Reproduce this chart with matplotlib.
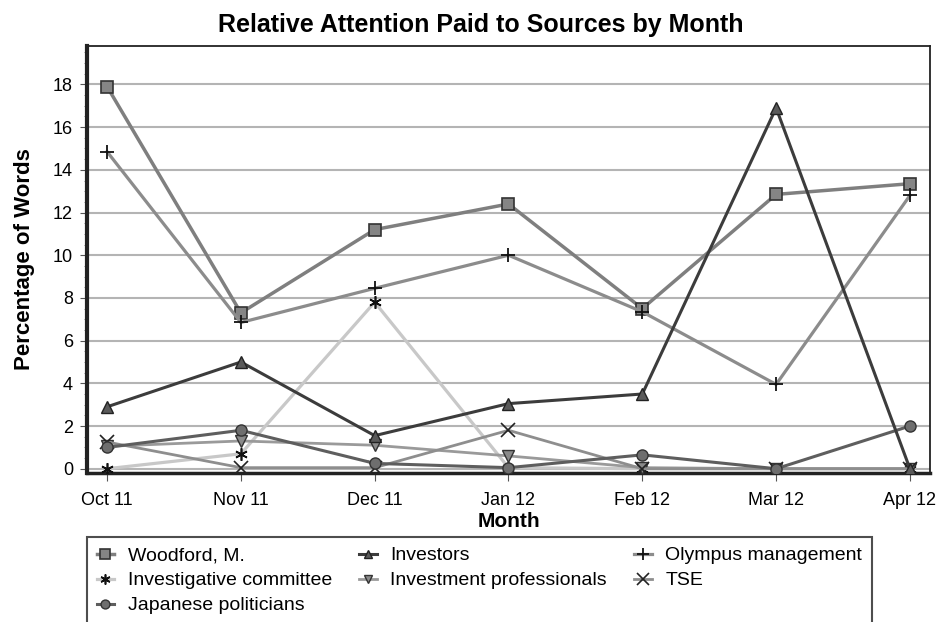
import matplotlib
matplotlib.use("Agg")
import matplotlib.pyplot as plt
from matplotlib.ticker import MultipleLocator

plt.rcParams['font.family'] = ['Liberation Sans', 'DejaVu Sans']

months = ['Oct 11', 'Nov 11', 'Dec 11', 'Jan 12', 'Feb 12', 'Mar 12', 'Apr 12']

woodford = [17.9, 7.3, 11.2, 12.4, 7.5, 12.85, 13.35]
investors = [2.9, 5.0, 1.55, 3.05, 3.5, 16.9, 0.0]
olympus = [14.85, 6.85, 8.45, 10.0, 7.35, 3.95, 12.8]
inv_committee = [0.0, 0.7, 7.8, 0.05, 0.0, 0.0, 0.0]
inv_professionals = [1.05, 1.3, 1.1, 0.6, 0.05, 0.0, 0.0]
tse = [1.25, 0.05, 0.05, 1.8, 0.0, 0.0, 0.0]
jp_politicians = [1.0, 1.8, 0.25, 0.05, 0.65, 0.0, 2.0]

fig = plt.figure(figsize=(9.43, 6.22), dpi=100)
ax = fig.add_axes([87/943, 1-473/622, (930-87)/943, (473-46)/622])

x = range(len(months))
h_wood, = ax.plot(x, woodford, color='#7f7f7f', lw=2.5, marker='s', ms=9,
                  mfc='#858585', mec='#333333', mew=1.2, label='Woodford, M.', zorder=5)
h_inv, = ax.plot(x, investors, color='#3c3c3c', lw=2.2, marker='^', ms=8,
                 mfc='#5a5a5a', mec='#222222', mew=1.0, label='Investors', zorder=6)
h_oly, = ax.plot(x, olympus, color='#8c8c8c', lw=2.3, marker='+', ms=10,
                 mec='#111111', mew=1.3, label='Olympus management', zorder=5)
h_com, = ax.plot(x, inv_committee, color='#c8c8c8', lw=2.3, marker=(6, 2, 0), ms=9,
                 mec='#111111', mew=1.2, label='Investigative committee', zorder=4)
h_pro, = ax.plot(x, inv_professionals, color='#9a9a9a', lw=2.0, marker='v', ms=8,
                 mfc='#8a8a8a', mec='#333333', mew=1.0, label='Investment professionals', zorder=4)
h_tse, = ax.plot(x, tse, color='#8e8e8e', lw=2.0, marker='x', ms=10,
                 mec='#222222', mew=1.2, label='TSE', zorder=4)
h_jp, = ax.plot(x, jp_politicians, color='#5e5e5e', lw=2.2, marker='o', ms=8,
                mfc='#6e6e6e', mec='#333333', mew=1.0, label='Japanese politicians', zorder=5)

ax.set_xlim(-0.15, 6.15)
ax.set_ylim(-0.2, 19.8)
ax.set_xticks(list(x))
ax.set_xticklabels(months, fontsize=13)
ax.yaxis.set_major_locator(MultipleLocator(2))
ax.yaxis.set_minor_locator(MultipleLocator(0.5))
ax.set_yticks(range(0, 19, 2))
ax.tick_params(axis='y', labelsize=13, length=5, pad=5, color='#555555')
ax.tick_params(axis='y', which='minor', length=2, color='#777777')
ax.tick_params(axis='x', length=6, pad=8, color='#555555')
ax.grid(axis='y', color='#b4b4b4', lw=1.5)
ax.set_axisbelow(True)

for s in ax.spines.values():
    s.set_color('#222222')
    s.set_linewidth(1.3)
ax.spines['left'].set_linewidth(3)
ax.spines['bottom'].set_linewidth(2.5)

ax.set_title('Relative Attention Paid to Sources by Month', fontsize=18, fontweight='bold',
             pad=10, x=(481-87)/843)
ax.set_ylabel('Percentage of Words', fontsize=16, fontweight='bold', labelpad=13)
ax.set_xlabel('Month', fontsize=15, fontweight='bold', labelpad=2)

handles = [h_wood, h_com, h_jp, h_inv, h_pro, h_oly, h_tse]
leg = fig.legend(handles=handles, labels=[h.get_label() for h in handles], ncol=3,
                 loc='upper left', bbox_to_anchor=(87/943, 1-537/622),
                 frameon=True, fancybox=False, fontsize=14,
                 handlelength=0.9, handletextpad=0.7, labelspacing=0.38,
                 borderaxespad=0, borderpad=0.5, columnspacing=1.4, markerscale=0.8)
leg.get_frame().set_edgecolor('#222222')
leg.get_frame().set_linewidth(1.5)

fig.savefig('out.png', dpi=100)
